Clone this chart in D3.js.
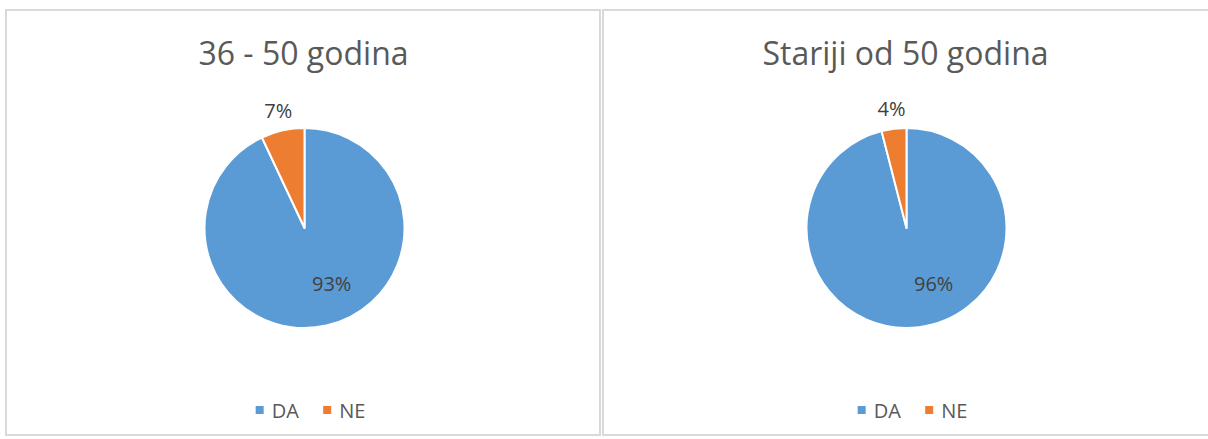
<!DOCTYPE html>
<html>
<head>
<meta charset="utf-8">
<script src="https://cdn.jsdelivr.net/npm/d3@7"></script>
<style>
  html, body { margin: 0; padding: 0; background: #ffffff; }
  svg { display: block; }
  text { font-family: "Open Sans", "Noto Sans", sans-serif; }
</style>
</head>
<body>
<svg id="chart" width="1208" height="439"></svg>
<script>
// ---- data ----
const categories = ["DA", "NE"];
const chartTitles = ["36 - 50 godina", "Stariji od 50 godina"];
const valuesGroup1 = [93, 7];
const valuesGroup2 = [96, 4];
const seriesColors = ["#5B9BD5", "#ED7D31"];

const allValues = [valuesGroup1, valuesGroup2];

const svg = d3.select("#chart");

const panels = [
  { x: 6, y: 10, w: 594, h: 425, cx: 304.5, cy: 228 },
  { x: 603, y: 10, w: 610, h: 425, cx: 906.5, cy: 228 }
];
const radius = 100;

const color = d3.scaleOrdinal().domain(categories).range(seriesColors);
const pie = d3.pie().sort(null).value(d => d.value);
const arc = d3.arc().innerRadius(0).outerRadius(radius);

panels.forEach((p, i) => {
  // panel border
  svg.append("rect")
    .attr("x", p.x).attr("y", p.y)
    .attr("width", p.w).attr("height", p.h)
    .attr("fill", "#ffffff")
    .attr("stroke", "#d9d9d9")
    .attr("stroke-width", 2);

  // title
  svg.append("text")
    .attr("x", p.cx - 1)
    .attr("y", 65)
    .attr("text-anchor", "middle")
    .attr("font-size", 32)
    .attr("fill", "#595959")
    .text(chartTitles[i]);

  const data = categories.map((c, k) => ({ cat: c, value: allValues[i][k] }));
  const arcs = pie(data);
  const total = d3.sum(data, d => d.value);

  const g = svg.append("g").attr("transform", `translate(${p.cx},${p.cy})`);

  g.selectAll("path.slice")
    .data(arcs)
    .join("path")
    .attr("class", "slice")
    .attr("d", arc)
    .attr("fill", d => color(d.data.cat))
    .attr("stroke", "#ffffff")
    .attr("stroke-width", 2)
    .attr("stroke-linejoin", "round");

  // data labels: small slices outside end, large slice inside (best fit)
  g.selectAll("text.lbl")
    .data(arcs)
    .join("text")
    .attr("class", "lbl")
    .attr("text-anchor", "middle")
    .attr("dominant-baseline", "central")
    .attr("font-size", 20)
    .attr("fill", "#404040")
    .attr("transform", d => {
      const share = d.data.value / total;
      let ang, dist;
      if (share < 0.5) {
        ang = (d.startAngle + d.endAngle) / 2;
        dist = radius + 20;
      } else {
        ang = Math.PI * 154 / 180;
        dist = radius * 0.62;
      }
      return `translate(${Math.sin(ang) * dist},${-Math.cos(ang) * dist})`;
    })
    .text(d => Math.round(d.data.value / total * 100) + "%");

  // legend
  const legend = svg.append("g");
  const items = legend.selectAll("g.item")
    .data(categories)
    .join("g")
    .attr("class", "item");
  items.append("rect")
    .attr("width", 8).attr("height", 8)
    .attr("y", -4)
    .attr("fill", d => color(d));
  items.append("text")
    .attr("x", 16)
    .attr("dominant-baseline", "central")
    .attr("font-size", 20)
    .attr("fill", "#595959")
    .text(d => d);
  let off = 0;
  items.each(function () {
    const w = this.getBBox().width;
    d3.select(this).attr("transform", `translate(${off},0)`);
    off += w + 24;
  });
  const totalW = off - 24;
  legend.attr("transform", `translate(${p.cx + 6 - totalW / 2},410)`);
});
</script>
</body>
</html>
